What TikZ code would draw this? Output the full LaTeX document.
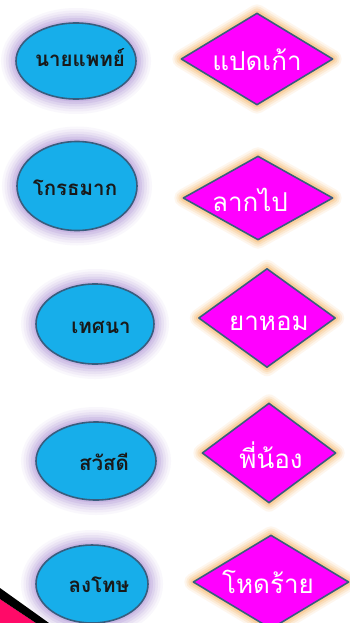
\documentclass[tikz,border=0pt]{standalone}
\usepackage{fontspec}
\newfontfamily\thaifont[Script=Thai]{Loma}
\usetikzlibrary{shapes.geometric}
\definecolor{ellfill}{HTML}{17AEEA}
\definecolor{shpborder}{HTML}{385D7E}
\definecolor{dmdfill}{HTML}{FF00FF}
\definecolor{purpglow}{HTML}{A283D0}
\definecolor{orglow}{HTML}{F8BA70}
\definecolor{hotpink}{HTML}{FF0A68}
\tikzset{
  ellbox/.style={ellipse, draw=shpborder, line width=1.6pt, fill=ellfill, inner sep=0pt,
    preaction={draw=purpglow, fill=none, line width=30pt, draw opacity=0.06},
    preaction={draw=purpglow, fill=none, line width=25pt, draw opacity=0.08},
    preaction={draw=purpglow, fill=none, line width=20pt, draw opacity=0.10},
    preaction={draw=purpglow, fill=none, line width=15pt, draw opacity=0.14},
    preaction={draw=purpglow, fill=none, line width=10pt, draw opacity=0.18},
    preaction={draw=purpglow, fill=none, line width=5pt, draw opacity=0.22}},
  dmdbox/.style={diamond, draw=shpborder, line width=1.6pt, fill=dmdfill, inner sep=0pt, line join=round,
    preaction={draw=orglow, fill=none, line join=round, line width=18pt, draw opacity=0.12},
    preaction={draw=orglow, fill=none, line join=round, line width=14pt, draw opacity=0.18},
    preaction={draw=orglow, fill=none, line join=round, line width=10pt, draw opacity=0.25},
    preaction={draw=orglow, fill=none, line join=round, line width=6pt, draw opacity=0.4}},
  elltext/.style={font=\thaifont\bfseries\fontsize{20.5}{24}\selectfont, text=black!90},
  dmdtext/.style={font=\thaifont\fontsize{26}{30}\selectfont, text=white},
}
\begin{document}
\begin{tikzpicture}[x=1pt,y=-1pt]
\useasboundingbox (0,0) rectangle (350,623);
\clip (0,0) rectangle (350,623);
\fill[white] (0,0) rectangle (350,623);
% ellipses
\node[ellbox, minimum width=120pt, minimum height=76pt] (e1) at (76,61) {};
\node[ellbox, minimum width=120pt, minimum height=89pt] (e2) at (77,186) {};
\node[ellbox, minimum width=118pt, minimum height=80pt] (e3) at (95,324) {};
\node[ellbox, minimum width=120pt, minimum height=78pt] (e4) at (96,461) {};
\node[ellbox, minimum width=112pt, minimum height=78pt] (e5) at (92,584) {};
% diamonds
\node[dmdbox, minimum width=152pt, minimum height=92pt] (d1) at (257,59) {};
\node[dmdbox, minimum width=150pt, minimum height=84pt] (d2) at (258,198) {};
\node[dmdbox, minimum width=137pt, minimum height=99pt] (d3) at (267,318) {};
\node[dmdbox, minimum width=134pt, minimum height=100pt] (d4) at (269,453) {};
\node[dmdbox, minimum width=156pt, minimum height=94pt] (d5) at (271,582) {};
% labels
\node[elltext] (t1) at (80,58) {นายแพทย์};
\node[elltext] (t2) at (75,188) {โกรธมาก};
\node[elltext] (t3) at (101,327) {เทศนา};
\node[elltext] (t4) at (104,462) {สวัสดี};
\node[elltext] (t5) at (99,585) {ลงโทษ};
\node[dmdtext] (u1) at (257,60) {แปดเก้า};
\node[dmdtext] (u2) at (250,200) {ลากไป};
\node[dmdtext] (u3) at (269,323) {ยาหอม};
\node[dmdtext] (u4) at (271,455) {พี่น้อง};
\node[dmdtext] (u5) at (268,582) {โหดร้าย};
% corner decoration
\fill[hotpink] (0,599) -- (36,623) -- (0,623) -- cycle;
\fill[black] (0,588) -- (49,623) -- (36,623) -- (0,599) -- cycle;
\end{tikzpicture}
\end{document}
